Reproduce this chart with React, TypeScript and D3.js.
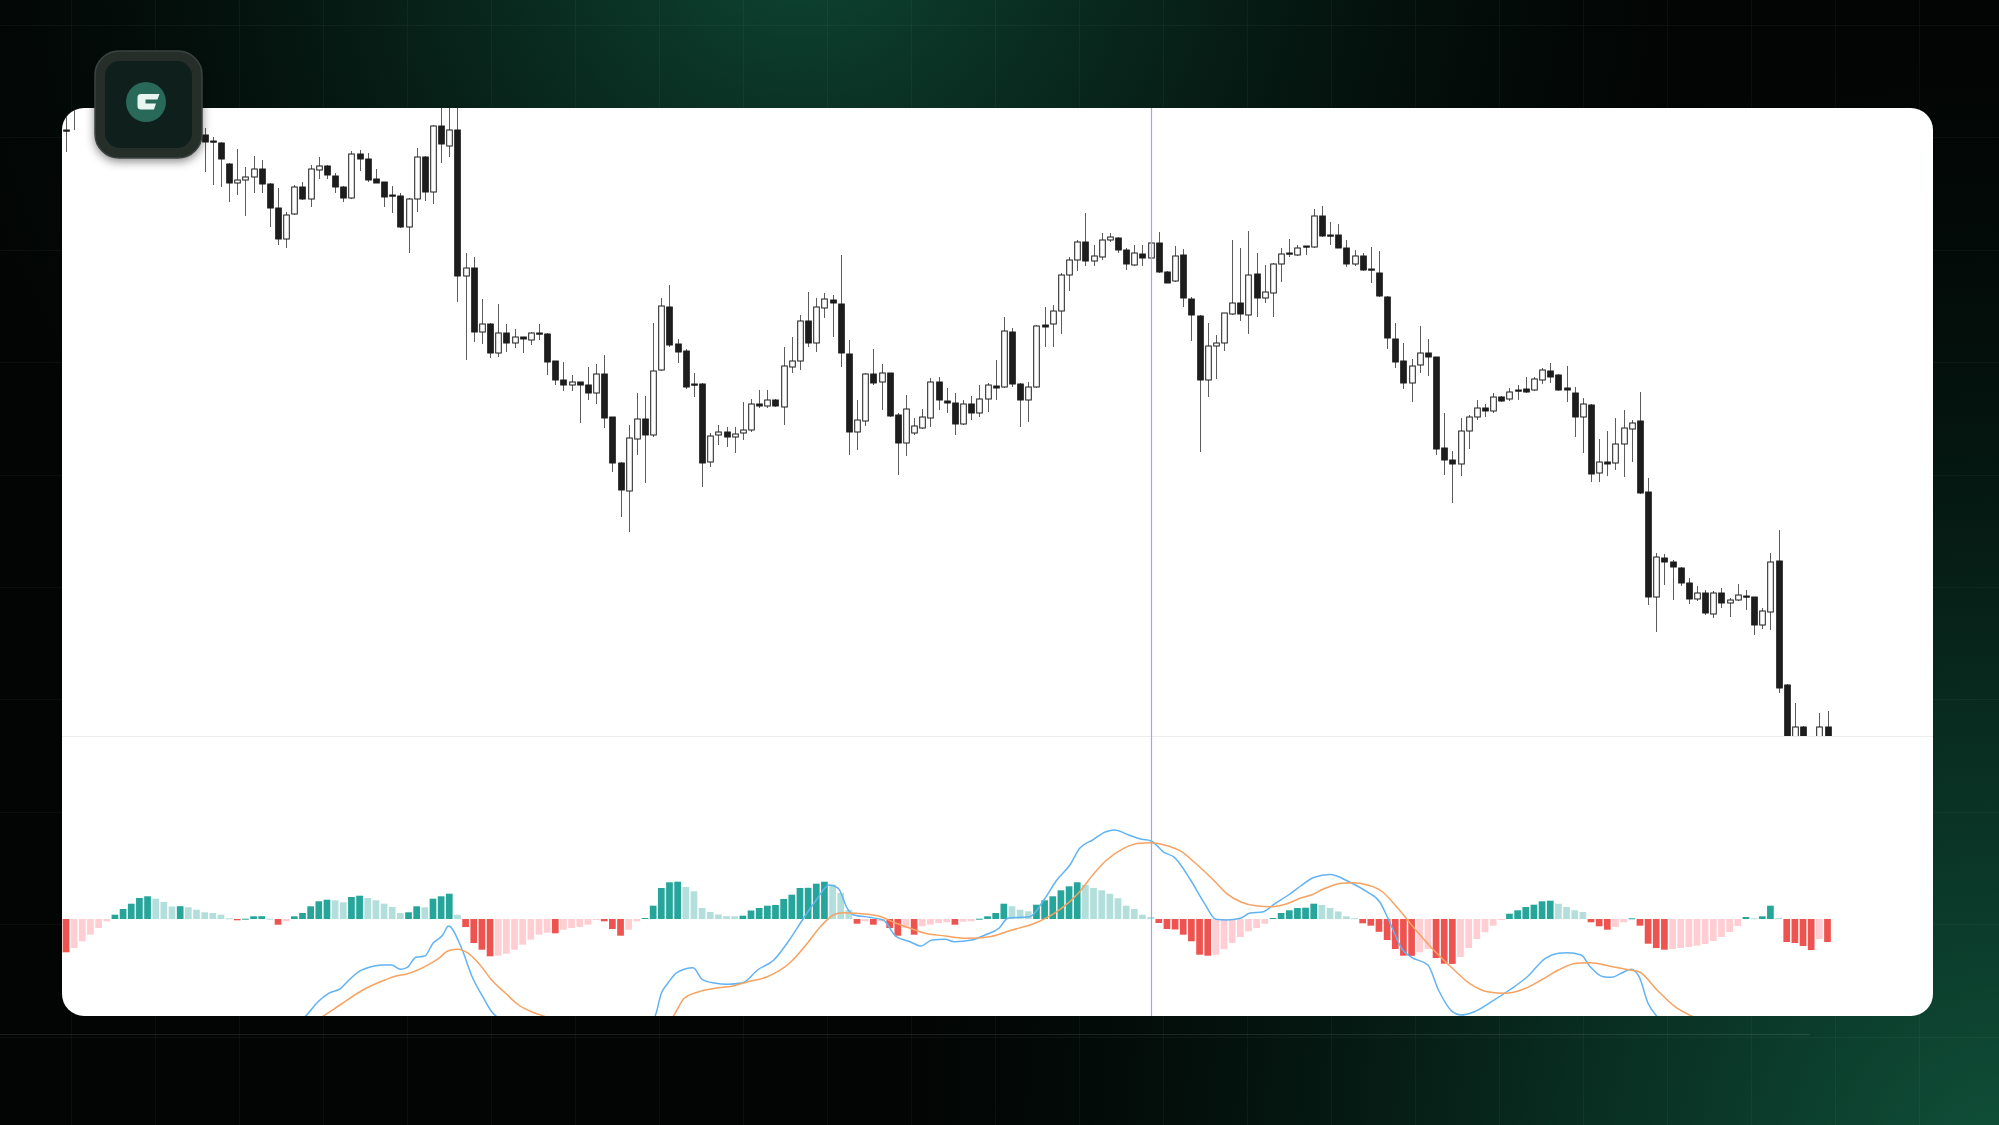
import React, { useEffect, useRef } from 'react';
import * as d3 from 'd3';

const W = 1999;
const H = 1125;

// candle OHLC by bar number (null = bar hidden behind the logo)
const N = null;
const opens = [670, 705, N, N, N, N, N, N, N, N, N, N, N, N, N, N, N,
  665, 659, 657, 636, 617, 620, 623, 631, 616, 592,
  561, 586, 613, 601, 630, 634, 624, 613, 602, 646,
  641, 621, 618, 605, 604, 573, 601, 643, 608, 674,
  654, 670, 524, 532, 468, 476, 447, 467, 457, 463,
  460, 467, 466, 439, 420, 415, 418, 415, 407, 426,
  383, 337, 309, 361, 381, 365, 430, 493, 456, 449,
  416, 416, 338, 365, 368, 363, 367, 370, 396, 394,
  400, 393, 433, 439, 479, 457, 492, 500, 496, 446,
  368, 379, 426, 418, 427, 385, 357, 367, 372, 382,
  418, 399, 397, 376, 396, 387, 401, 414, 413, 468,
  416, 400, 413, 475, 476, 489, 525, 540, 558, 539,
  543, 560, 562, 550, 535, 546, 542, 557, 528, 519,
  545, 501, 484, 420, 454, 457, 486, 497, 485, 526,
  502, 507, 536, 547, 545, 554, 553, 584, 565, 565,
  552, 536, 544, 531, 527, 503, 461, 439, 417, 435,
  447, 443, 352, 340, 336, 369, 383, 392, 389, 403,
  401, 410, 411, 410, 420, 429, 425, 412, 407, 383,
  395, 327, 338, 337, 356, 371, 379, 308, 203, 242,
  238, 232, 217, 201, 207, 186, 207, 197, 200, 204,
  203, 175, 188, 239, 115, 55, 73, 60, 55, 73];
const highs = [685, 710, N, N, N, N, N, N, N, N, N, N, N, N, N, N, N,
  672, 663, 658, 637, 651, 633, 644, 640, 617, 612,
  588, 615, 618, 635, 643, 635, 627, 614, 649, 650,
  647, 631, 618, 614, 607, 602, 652, 644, 675, 692,
  695, 695, 547, 543, 501, 477, 496, 476, 471, 463,
  468, 476, 467, 439, 438, 425, 418, 433, 436, 445,
  383, 338, 375, 407, 404, 477, 502, 515, 461, 451,
  427, 417, 367, 375, 373, 373, 398, 401, 410, 410,
  401, 453, 463, 485, 508, 502, 507, 505, 545, 460,
  400, 427, 451, 436, 427, 387, 405, 382, 391, 422,
  423, 412, 407, 400, 404, 415, 417, 440, 483, 472,
  417, 418, 475, 493, 495, 527, 543, 560, 587, 555,
  567, 567, 563, 552, 555, 555, 568, 568, 529, 554,
  551, 503, 485, 477, 465, 487, 560, 552, 569, 547,
  535, 537, 552, 561, 555, 554, 591, 594, 578, 576,
  560, 550, 547, 553, 549, 504, 477, 457, 441, 474,
  461, 443, 387, 349, 382, 385, 400, 396, 407, 404,
  412, 415, 423, 423, 432, 437, 426, 434, 413, 402,
  396, 361, 369, 382, 390, 380, 408, 322, 247, 246,
  240, 233, 222, 214, 210, 209, 212, 202, 216, 210,
  203, 192, 247, 270, 116, 97, 74, 62, 87, 89];
const lows = [648, 670, N, N, N, N, N, N, N, N, N, N, N, N, N, N, N,
  628, 615, 613, 598, 605, 584, 607, 607, 573, 555,
  552, 585, 600, 593, 621, 621, 607, 598, 601, 629,
  618, 617, 593, 587, 572, 547, 588, 599, 596, 637,
  643, 498, 440, 458, 456, 442, 443, 448, 452, 447,
  455, 460, 425, 415, 409, 409, 377, 400, 396, 372,
  328, 283, 268, 345, 317, 363, 429, 453, 437, 411,
  403, 313, 333, 355, 353, 347, 360, 368, 392, 392,
  393, 375, 427, 430, 453, 448, 482, 463, 433, 345,
  350, 374, 415, 390, 383, 325, 344, 365, 371, 373,
  390, 387, 365, 375, 380, 383, 388, 400, 412, 413,
  373, 378, 412, 453, 453, 466, 509, 529, 534, 534,
  540, 558, 547, 530, 534, 534, 533, 527, 517, 518,
  493, 459, 348, 403, 421, 449, 485, 479, 466, 483,
  497, 483, 518, 543, 544, 545, 552, 563, 555, 552,
  533, 534, 529, 517, 503, 451, 432, 411, 398, 427,
  424, 345, 325, 297, 324, 351, 380, 383, 387, 398,
  399, 400, 407, 409, 416, 417, 409, 398, 363, 347,
  318, 318, 324, 330, 323, 338, 306, 195, 168, 215,
  200, 214, 196, 199, 185, 182, 192, 183, 199, 190,
  165, 171, 170, 107, 30, 50, 50, 45, 50, 50];
const closes = [669, 698, N, N, N, N, N, N, N, N, N, N, N, N, N, N, N,
  658, 658, 641, 617, 620, 623, 631, 616, 592, 561,
  585, 613, 601, 631, 634, 625, 613, 602, 646, 641,
  620, 617, 603, 604, 573, 601, 643, 608, 674, 656,
  670, 524, 532, 468, 476, 447, 467, 457, 463, 461,
  467, 466, 438, 420, 415, 418, 415, 407, 426, 382,
  337, 310, 362, 381, 365, 429, 494, 455, 448, 413,
  415, 337, 364, 368, 363, 366, 370, 396, 394, 400,
  394, 434, 439, 479, 457, 493, 501, 497, 447, 368,
  380, 426, 417, 427, 384, 357, 391, 374, 383, 418,
  400, 397, 376, 396, 387, 401, 415, 412, 469, 416,
  400, 413, 474, 473, 489, 525, 540, 558, 539, 544,
  560, 563, 550, 536, 547, 542, 557, 528, 517, 544,
  502, 485, 420, 454, 457, 487, 497, 486, 525, 502,
  508, 536, 546, 546, 552, 553, 584, 564, 564, 552,
  536, 544, 530, 530, 504, 462, 438, 417, 434, 447,
  443, 351, 340, 336, 369, 383, 392, 389, 403, 399,
  408, 409, 408, 421, 430, 423, 410, 410, 383, 396,
  326, 338, 336, 356, 372, 377, 307, 203, 243, 238,
  233, 217, 201, 207, 187, 207, 197, 200, 205, 203,
  175, 189, 238, 112, 40, 73, 55, 50, 73, 55];

// MACD histogram, one value per bar
const histogram = [
  -33.3, -29, -22.3, -15.7, -9, -2.3, 4.3, 10, 15.3, 21,
  22.7, 20.3, 17, 12.5, 12.8, 11.7, 9.3, 6.7, 6, 4.3,
  0.7, -1.3, 0.3, 2.7, 2.8, 0.3, -5.7, -2.3, 2.7, 6,
  12.7, 17.7, 19.3, 18.7, 16.7, 22, 23.3, 21, 18.7, 15.3,
  12, 6, 6.7, 12.7, 11.7, 20.3, 22.7, 25.3, 4.3, -8,
  -24, -30.7, -37.3, -36.7, -34.7, -30.7, -25.7, -20.7, -15.7, -13.7,
  -14.3, -10.7, -9, -8, -5.7, -0.7, -2.3, -10, -16.7, -10.7,
  -2.3, 1, 13.3, 31, 36.7, 37.3, 32, 27.7, 11, 7,
  4.5, 2.8, 2.7, 3.3, 8.5, 11, 13.3, 14, 20, 24.3,
  31, 31.2, 35.3, 37.3, 34.3, 26, 9, -4.7, -2.3, -5.7,
  -2.3, -9, -16.7, -9, -15.7, -7.3, -5.7, -4, -3.3, -5.7,
  -2.7, -2.3, 0.3, 2.7, 6, 15.3, 12.7, 9.3, 7.7, 14.3,
  18.7, 22.7, 28.7, 32.7, 36.7, 34, 31, 28.7, 25.3, 20.7,
  13.3, 10, 4.3, 2, -4, -10, -10.5, -15.7, -22.3, -35.7,
  -36.7, -35.7, -30, -24, -18, -12.3, -9, -4.7, 1, 6,
  8.7, 11, 11.3, 15.3, 14, 11, 7.5, 2.7, 0.8, -4.3,
  -6.7, -12.8, -21, -30, -36.7, -36.9, -33.3, -30, -39, -44.7,
  -44.9, -38, -29, -20, -13.3, -6.7, -0.7, 5.3, 8.7, 12,
  14.3, 17.7, 18.3, 15.3, 12, 8.7, 7, -3.3, -7.3, -10.7,
  -8, -3.3, 0.7, -6.7, -24.7, -29, -30.7, -30, -29, -28,
  -26.7, -25, -22, -18, -13, -7, 2, 0.7, 2.7, 13.3,
  1, -23, -24, -27, -31, -20, -23];

// MACD line (blue): bar position, value
const macdAt = [0, 6, 12, 18, 24, 28, 29.3, 30.9, 32.2, 33.7, 34.7, 36.1, 37.4, 38.8, 39.9, 41, 41.8, 42.9, 44, 45,
  46.2, 46.9, 48.4, 49.8, 51.1, 52.2, 52.8, 56, 62, 68, 71, 72.2, 73, 73.8, 74.9, 76.9, 78, 79.5, 81.1, 83,
  84.8, 86.8, 88.7, 90.3, 92, 93.6, 94.7, 95.8, 96.6, 98.5, 100.2, 101.8, 103.5, 104.8, 106.2, 107.8, 108.9, 111.1, 112.7, 114.4,
  115.5, 117.1, 118.2, 119.9, 121.5, 123.1, 124.3, 125.9, 127.5, 128.6, 130.3, 131.9, 133, 134.7, 135.8, 137.9, 139.6, 141, 142.3, 144,
  145.1, 146.8, 148.3, 149.9, 151.4, 153, 155, 157.3, 159.5, 161.1, 162.2, 163.9, 165, 167, 168.3, 170, 171, 172.7, 174.8, 177,
  179.2, 181.4, 183, 184.1, 185.8, 186.9, 188.5, 189.6, 190.7, 191.9, 192.9, 194, 195.1, 198, 204, 210, 216];
const macdValues = [-120, -133, -118, -112, -113, -104, -97.7, -82.7, -74.3, -69.3, -61, -51.7, -47.7, -46, -46, -50.3, -48.7, -38.3, -37, -24.3,
  -16, -7, -27, -57.7, -77.7, -92.7, -97.7, -115, -130, -118, -106, -97.7, -74.3, -64.3, -53.7, -48.7, -60.3, -64, -65.2, -63.7,
  -51, -41, -21, -1, 19, 34, 30.7, 10.7, 4, 1.7, -1, -17.7, -22.7, -27, -21, -20.3, -22.7, -21, -16, -9.3,
  0.7, 1.7, 2.3, 19, 39, 54, 70.7, 79, 87.3, 89, 84, 79.7, 78.3, 66.3, 62.3, 39, 15.7, -0.3, -1, 0.7,
  5.7, 7.3, 15.7, 24, 33, 41.5, 44.5, 37.3, 27.3, 17, -1, -31, -38.3, -46, -71, -92.7, -96, -92.7, -82.7, -71,
  -57.7, -39.3, -34.3, -33.7, -36, -47.7, -57.7, -58.3, -54.3, -50.3, -57.7, -84.3, -97.7, -118, -136, -140, -168];

// Signal line (orange): bar position, value
const signalAt = [0, 8, 16, 24, 30, 31.4, 33.6, 36.4, 39.1, 40.5, 41.8, 44, 45.7, 46.9, 48.1, 49.2, 50.6, 52.2, 53.9, 55.5,
  57.4, 58.8, 62, 67, 71, 74.4, 75.8, 77.5, 79.6, 81.8, 83.5, 86, 88.7, 90.9, 92.5, 94.1, 95.2, 96.9, 99.6, 101.8,
  103.5, 105.1, 107.8, 110.6, 113.3, 116, 118.8, 121.5, 124.3, 125.9, 127.5, 129.7, 131.6, 133, 134.7, 136.8, 138.5, 140.7, 142.3, 144,
  146.1, 147.8, 149.9, 151.3, 152.7, 154.2, 156.4, 157.7, 159.6, 161.3, 163.4, 165.5, 167.7, 170, 172.1, 174.3, 176.5, 178.7, 180.9, 183,
  185.2, 186.9, 189.6, 191.8, 192.9, 195.1, 197.3, 199.5, 203, 209, 216];
const signalValues = [-100, -121, -119, -115, -104, -97.7, -86, -71, -61, -57, -55, -47.7, -39.3, -31.7, -30.3, -33.7, -44.3, -61, -74.3, -86,
  -93.7, -97.7, -110, -117, -112, -97.7, -79.3, -73, -69.3, -67, -63, -57.7, -44.3, -24.3, -7.7, 4, 6.3, 5.7, 3, -4.3,
  -9.3, -13.7, -17, -19.3, -17.7, -11, -4.3, 7.3, 27.3, 44, 58.3, 70.7, 75.7, 76.3, 74, 67.3, 55.7, 39, 25.7, 17.3,
  13, 12.3, 15.7, 20.7, 24, 30, 35.7, 36.3, 34, 28, 10, -11, -31, -49.3, -64.3, -72.7, -74.3, -70.3, -61, -51,
  -44.3, -43.7, -47.7, -51, -52.7, -71, -87.7, -97.7, -112, -128, -152];

const crosshairBar = 133;

export default function App() {
  const ref = useRef<SVGSVGElement>(null);

  useEffect(() => {
    if (!ref.current) return;
    const svg = d3.select(ref.current);
    svg.selectAll('*').remove();
    const defs = svg.append('defs');

    // background
    const g1 = defs.append('radialGradient').attr('id', 'bgTop')
      .attr('gradientUnits', 'userSpaceOnUse').attr('cx', 800).attr('cy', -90).attr('r', 880);
    g1.append('stop').attr('offset', '0%').attr('stop-color', '#0f4a35').attr('stop-opacity', 1);
    g1.append('stop').attr('offset', '45%').attr('stop-color', '#0a3024').attr('stop-opacity', 0.65);
    g1.append('stop').attr('offset', '100%').attr('stop-color', '#041510').attr('stop-opacity', 0);
    const g2 = defs.append('radialGradient').attr('id', 'bgBottom')
      .attr('gradientUnits', 'userSpaceOnUse').attr('cx', 1999).attr('cy', 1160).attr('r', 1100);
    g2.append('stop').attr('offset', '0%').attr('stop-color', '#10513a').attr('stop-opacity', 1);
    g2.append('stop').attr('offset', '40%').attr('stop-color', '#0a3627').attr('stop-opacity', 0.8);
    g2.append('stop').attr('offset', '100%').attr('stop-color', '#041510').attr('stop-opacity', 0);

    svg.append('rect').attr('width', W).attr('height', H).attr('fill', '#020504');
    svg.append('rect').attr('width', W).attr('height', H).attr('fill', 'url(#bgTop)');
    svg.append('rect').attr('width', W).attr('height', H).attr('fill', 'url(#bgBottom)');

    const grid = svg.append('g').attr('stroke', '#ffffff').attr('stroke-opacity', 0.04).attr('stroke-width', 1);
    d3.range(71, W, 84).forEach(gx => {
      grid.append('line').attr('x1', gx + 0.5).attr('x2', gx + 0.5).attr('y1', 0).attr('y2', H);
    });
    d3.range(25, H, 112.4).forEach(gy => {
      grid.append('line').attr('x1', 0).attr('x2', W).attr('y1', Math.round(gy) + 0.5).attr('y2', Math.round(gy) + 0.5);
    });
    svg.append('line').attr('x1', 0).attr('x2', 1810).attr('y1', 1034.5).attr('y2', 1034.5)
      .attr('stroke', '#ffffff').attr('stroke-opacity', 0.1);

    // card
    const card = { x: 62, y: 108, w: 1871, h: 908, r: 22 };
    const split = 736;
    svg.append('rect').attr('x', card.x).attr('y', card.y).attr('width', card.w).attr('height', card.h)
      .attr('rx', card.r).attr('fill', '#ffffff');

    defs.append('clipPath').attr('id', 'cardClip').append('rect')
      .attr('x', card.x).attr('y', card.y).attr('width', card.w).attr('height', card.h).attr('rx', card.r);
    defs.append('clipPath').attr('id', 'priceClip').append('rect')
      .attr('x', card.x).attr('y', card.y).attr('width', card.w).attr('height', split - card.y);
    defs.append('clipPath').attr('id', 'macdClip').append('rect')
      .attr('x', card.x).attr('y', split).attr('width', card.w).attr('height', card.y + card.h - split);

    const inCard = svg.append('g').attr('clip-path', 'url(#cardClip)');

    const x = d3.scaleLinear().domain([0, opens.length - 1]).range([66, 1827.5]);
    const y = d3.scaleLinear().domain([64, 692]).range([736, 108]);
    const ym = d3.scaleLinear().domain([-100, 100]).range([1019, 819]);

    inCard.append('line').attr('x1', card.x).attr('x2', card.x + card.w)
      .attr('y1', split + 0.5).attr('y2', split + 0.5).attr('stroke', '#ededed');

    // candles
    const price = inCard.append('g').attr('clip-path', 'url(#priceClip)');
    const bars = d3.range(opens.length).filter(i => opens[i] != null);
    const bodyW = 5.6;

    price.selectAll('.wick').data(bars).enter().append('line')
      .attr('x1', i => Math.round(x(i)) + 0.5).attr('x2', i => Math.round(x(i)) + 0.5)
      .attr('y1', i => y(highs[i] as number)).attr('y2', i => y(lows[i] as number))
      .attr('stroke', '#5c5c5c').attr('stroke-width', 1);

    price.selectAll('.body').data(bars).enter().append('rect')
      .attr('x', i => Math.round(x(i)) + 0.5 - bodyW / 2)
      .attr('y', i => y(Math.max(opens[i] as number, closes[i] as number)))
      .attr('width', bodyW)
      .attr('height', i => Math.max(1.2, Math.abs(y(opens[i] as number) - y(closes[i] as number))))
      .attr('fill', i => ((closes[i] as number) >= (opens[i] as number) ? '#ffffff' : '#1d1d1d'))
      .attr('stroke', '#1d1d1d').attr('stroke-width', 1);

    // MACD
    const macd = inCard.append('g').attr('clip-path', 'url(#macdClip)');
    const histColor = (v: number, i: number) => {
      const prev = i > 0 ? histogram[i - 1] : (v >= 0 ? -Infinity : Infinity);
      if (v >= 0) return v > prev ? '#26a69a' : '#b2dfdb';
      return v < prev ? '#ef5350' : '#ffcdd2';
    };
    const barW = 6.7;
    macd.selectAll('.hist').data(histogram).enter().append('rect')
      .attr('x', (_, i) => x(i) - barW / 2)
      .attr('y', v => Math.min(ym(0), ym(v)))
      .attr('width', barW)
      .attr('height', v => Math.max(1, Math.abs(ym(v) - ym(0))))
      .attr('fill', (v, i) => histColor(v, i));

    const line = d3.line<[number, number]>()
      .x(d => x(d[0])).y(d => ym(d[1])).curve(d3.curveMonotoneX);
    macd.append('path')
      .datum(macdAt.map((p, k) => [p, macdValues[k]] as [number, number]))
      .attr('fill', 'none').attr('stroke', '#62b3f3').attr('stroke-width', 1.5).attr('d', line);
    macd.append('path')
      .datum(signalAt.map((p, k) => [p, signalValues[k]] as [number, number]))
      .attr('fill', 'none').attr('stroke', '#f7a260').attr('stroke-width', 1.5).attr('d', line);

    // crosshair
    inCard.append('line')
      .attr('x1', Math.round(x(crosshairBar)) + 0.5).attr('x2', Math.round(x(crosshairBar)) + 0.5)
      .attr('y1', card.y).attr('y2', card.y + card.h)
      .attr('stroke', '#a9a5dc').attr('stroke-width', 1.2);

    // logo badge
    const sh = defs.append('filter').attr('id', 'logoShadow').attr('x', '-30%').attr('y', '-30%')
      .attr('width', '160%').attr('height', '160%');
    sh.append('feDropShadow').attr('dx', 0).attr('dy', 3).attr('stdDeviation', 5)
      .attr('flood-color', '#000').attr('flood-opacity', 0.45);
    const logo = svg.append('g');
    logo.append('rect').attr('x', 95).attr('y', 51).attr('width', 107).attr('height', 107).attr('rx', 24)
      .attr('fill', '#272e2c').attr('stroke', '#3a4240').attr('stroke-width', 1.5).attr('filter', 'url(#logoShadow)');
    logo.append('rect').attr('x', 105).attr('y', 61).attr('width', 87).attr('height', 87).attr('rx', 15)
      .attr('fill', '#0f1f1b');
    logo.append('circle').attr('cx', 146).attr('cy', 102).attr('r', 20).attr('fill', '#28695a');
    logo.append('path')
      .attr('d', 'M141 94 L159.5 94 L157.5 99.5 L145.5 99.5 L145.5 103.5 L156 103.5 L154 109.5 L141 109.5 Q137.5 109.5 137.5 106 L137.5 97.5 Q137.5 94 141 94 Z')
      .attr('fill', '#e9f5f1');
  }, []);

  return (
    <div style={{ position: 'fixed', left: 0, top: 0, width: W, height: H, overflow: 'hidden' }}>
      <svg ref={ref} width={W} height={H} style={{ display: 'block' }} />
    </div>
  );
}
